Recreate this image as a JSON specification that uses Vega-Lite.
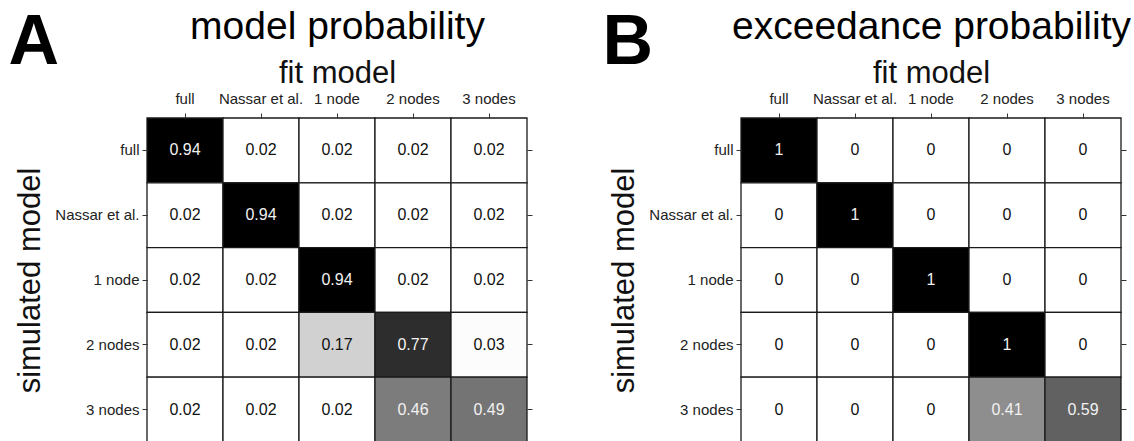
{
  "$schema": "https://vega.github.io/schema/vega-lite/v6.json",
  "padding": {"left": 8, "top": 7, "right": 0, "bottom": 0},
  "background": "white",
  "config": {
    "font": "Liberation Sans",
    "view": {"stroke": null},
    "axis": {"labelColor": "#222222", "titleColor": "#111111", "tickColor": "#333333", "titleFontWeight": "normal"}
  },
  "datasets": {
    "modelProb": [
      {"sim": "full", "fit": "full", "p": 0.94},
      {"sim": "full", "fit": "Nassar et al.", "p": 0.02},
      {"sim": "full", "fit": "1 node", "p": 0.02},
      {"sim": "full", "fit": "2 nodes", "p": 0.02},
      {"sim": "full", "fit": "3 nodes", "p": 0.02},
      {"sim": "Nassar et al.", "fit": "full", "p": 0.02},
      {"sim": "Nassar et al.", "fit": "Nassar et al.", "p": 0.94},
      {"sim": "Nassar et al.", "fit": "1 node", "p": 0.02},
      {"sim": "Nassar et al.", "fit": "2 nodes", "p": 0.02},
      {"sim": "Nassar et al.", "fit": "3 nodes", "p": 0.02},
      {"sim": "1 node", "fit": "full", "p": 0.02},
      {"sim": "1 node", "fit": "Nassar et al.", "p": 0.02},
      {"sim": "1 node", "fit": "1 node", "p": 0.94},
      {"sim": "1 node", "fit": "2 nodes", "p": 0.02},
      {"sim": "1 node", "fit": "3 nodes", "p": 0.02},
      {"sim": "2 nodes", "fit": "full", "p": 0.02},
      {"sim": "2 nodes", "fit": "Nassar et al.", "p": 0.02},
      {"sim": "2 nodes", "fit": "1 node", "p": 0.17},
      {"sim": "2 nodes", "fit": "2 nodes", "p": 0.77},
      {"sim": "2 nodes", "fit": "3 nodes", "p": 0.03},
      {"sim": "3 nodes", "fit": "full", "p": 0.02},
      {"sim": "3 nodes", "fit": "Nassar et al.", "p": 0.02},
      {"sim": "3 nodes", "fit": "1 node", "p": 0.02},
      {"sim": "3 nodes", "fit": "2 nodes", "p": 0.46},
      {"sim": "3 nodes", "fit": "3 nodes", "p": 0.49}
    ],
    "exceedProb": [
      {"sim": "full", "fit": "full", "p": 1},
      {"sim": "full", "fit": "Nassar et al.", "p": 0},
      {"sim": "full", "fit": "1 node", "p": 0},
      {"sim": "full", "fit": "2 nodes", "p": 0},
      {"sim": "full", "fit": "3 nodes", "p": 0},
      {"sim": "Nassar et al.", "fit": "full", "p": 0},
      {"sim": "Nassar et al.", "fit": "Nassar et al.", "p": 1},
      {"sim": "Nassar et al.", "fit": "1 node", "p": 0},
      {"sim": "Nassar et al.", "fit": "2 nodes", "p": 0},
      {"sim": "Nassar et al.", "fit": "3 nodes", "p": 0},
      {"sim": "1 node", "fit": "full", "p": 0},
      {"sim": "1 node", "fit": "Nassar et al.", "p": 0},
      {"sim": "1 node", "fit": "1 node", "p": 1},
      {"sim": "1 node", "fit": "2 nodes", "p": 0},
      {"sim": "1 node", "fit": "3 nodes", "p": 0},
      {"sim": "2 nodes", "fit": "full", "p": 0},
      {"sim": "2 nodes", "fit": "Nassar et al.", "p": 0},
      {"sim": "2 nodes", "fit": "1 node", "p": 0},
      {"sim": "2 nodes", "fit": "2 nodes", "p": 1},
      {"sim": "2 nodes", "fit": "3 nodes", "p": 0},
      {"sim": "3 nodes", "fit": "full", "p": 0},
      {"sim": "3 nodes", "fit": "Nassar et al.", "p": 0},
      {"sim": "3 nodes", "fit": "1 node", "p": 0},
      {"sim": "3 nodes", "fit": "2 nodes", "p": 0.41},
      {"sim": "3 nodes", "fit": "3 nodes", "p": 0.59}
    ]
  },
  "spacing": 69,
  "resolve": {"scale": {"color": "independent"}},
  "hconcat": [
    {
      "width": 380,
      "height": 324,
      "data": {"name": "modelProb"},
      "resolve": {"axis": {"x": "independent", "y": "independent"}},
      "layer": [
        {
          "mark": {"type": "rect", "stroke": "#1a1a1a", "strokeWidth": 1.3},
          "encoding": {
            "x": {"field": "fit", "type": "nominal", "sort": ["full", "Nassar et al.", "1 node", "2 nodes", "3 nodes"],
              "axis": {"orient": "top", "title": "fit model", "titleFontSize": 31, "titlePadding": 2, "labelFontSize": 15, "labelAngle": 0, "labelOverlap": false, "labelPadding": 7, "tickSize": 5, "domain": false}},
            "y": {"field": "sim", "type": "nominal", "sort": ["full", "Nassar et al.", "1 node", "2 nodes", "3 nodes"],
              "axis": {"orient": "left", "title": "simulated model", "titleFontSize": 31, "titlePadding": 8, "labelFontSize": 15, "labelPadding": 3, "tickSize": 5, "domain": false}},
            "color": {"field": "p", "type": "quantitative", "scale": {"domain": [0.02, 0.94], "range": ["#ffffff", "#000000"], "clamp": true}, "legend": null}
          }
        },
        {
          "mark": {"type": "text", "fontSize": 16},
          "encoding": {
            "x": {"field": "fit", "type": "nominal", "sort": ["full", "Nassar et al.", "1 node", "2 nodes", "3 nodes"],
              "axis": {"orient": "bottom", "labels": false, "ticks": false, "domain": false, "title": "model probability", "titleFontSize": 39, "titleColor": "black", "titleAngle": 0, "titleAlign": "center", "titleBaseline": "alphabetic", "titleX": 190, "titleY": -404}},
            "y": {"field": "sim", "type": "nominal", "sort": ["full", "Nassar et al.", "1 node", "2 nodes", "3 nodes"],
              "axis": {"orient": "right", "labels": false, "tickSize": 5, "domain": false, "title": "A", "titleFontSize": 70, "titleFontWeight": "bold", "titleColor": "black", "titleAngle": 0, "titleAlign": "left", "titleBaseline": "alphabetic", "titleX": -519, "titleY": -55}},
            "text": {"field": "p", "type": "quantitative", "format": ".2f"},
            "color": {"condition": {"test": "datum.p > 0.3", "value": "#f2f2f2"}, "value": "#111111"}
          }
        }
      ]
    },
    {
      "width": 380,
      "height": 324,
      "data": {"name": "exceedProb"},
      "resolve": {"axis": {"x": "independent", "y": "independent"}},
      "layer": [
        {
          "mark": {"type": "rect", "stroke": "#1a1a1a", "strokeWidth": 1.3},
          "encoding": {
            "x": {"field": "fit", "type": "nominal", "sort": ["full", "Nassar et al.", "1 node", "2 nodes", "3 nodes"],
              "axis": {"orient": "top", "title": "fit model", "titleFontSize": 31, "titlePadding": 2, "labelFontSize": 15, "labelAngle": 0, "labelOverlap": false, "labelPadding": 7, "tickSize": 5, "domain": false}},
            "y": {"field": "sim", "type": "nominal", "sort": ["full", "Nassar et al.", "1 node", "2 nodes", "3 nodes"],
              "axis": {"orient": "left", "title": "simulated model", "titleFontSize": 31, "titlePadding": 8, "labelFontSize": 15, "labelPadding": 3, "tickSize": 5, "domain": false}},
            "color": {"field": "p", "type": "quantitative", "scale": {"domain": [0, 1], "range": ["#ffffff", "#000000"], "clamp": true}, "legend": null}
          }
        },
        {
          "mark": {"type": "text", "fontSize": 16},
          "encoding": {
            "x": {"field": "fit", "type": "nominal", "sort": ["full", "Nassar et al.", "1 node", "2 nodes", "3 nodes"],
              "axis": {"orient": "bottom", "labels": false, "ticks": false, "domain": false, "title": "exceedance probability", "titleFontSize": 39, "titleColor": "black", "titleAngle": 0, "titleAlign": "center", "titleBaseline": "alphabetic", "titleX": 190, "titleY": -404}},
            "y": {"field": "sim", "type": "nominal", "sort": ["full", "Nassar et al.", "1 node", "2 nodes", "3 nodes"],
              "axis": {"orient": "right", "labels": false, "tickSize": 5, "domain": false, "title": "B", "titleFontSize": 70, "titleFontWeight": "bold", "titleColor": "black", "titleAngle": 0, "titleAlign": "left", "titleBaseline": "alphabetic", "titleX": -519, "titleY": -55}},
            "text": {"field": "p", "type": "quantitative", "format": "~g"},
            "color": {"condition": {"test": "datum.p > 0.3", "value": "#f2f2f2"}, "value": "#111111"}
          }
        }
      ]
    }
  ]
}
